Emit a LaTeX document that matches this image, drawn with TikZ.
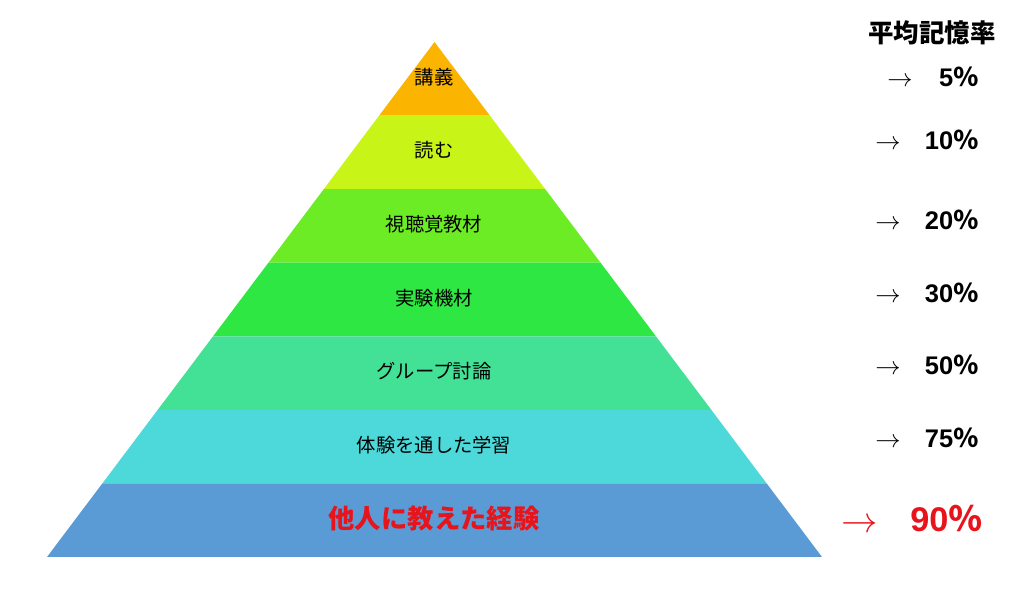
\documentclass[tikz,border=0pt]{standalone}
\usepackage{fontspec}
\newfontfamily\jpfont{Noto Sans CJK JP}
\newfontfamily\numfont{Liberation Sans}
\usetikzlibrary{positioning}
\definecolor{lyrA}{HTML}{FBB400}
\definecolor{lyrB}{HTML}{C8F517}
\definecolor{lyrC}{HTML}{6CEC24}
\definecolor{lyrD}{HTML}{2EE742}
\definecolor{lyrE}{HTML}{42E196}
\definecolor{lyrF}{HTML}{4DD8D9}
\definecolor{lyrG}{HTML}{5B9BD5}
\definecolor{hotred}{HTML}{E8141C}

\tikzset{
  layerlabel/.style={font=\jpfont\fontsize{11}{13}\selectfont, text=black},
  ratelabel/.style={anchor=east, font=\numfont\bfseries\fontsize{14.5}{16}\selectfont},
  ratearrow/.style={font=\fontsize{14}{16}\selectfont},
}

\begin{document}
\begin{tikzpicture}[x=0.02cm,y=-0.02cm]
  \useasboundingbox (0,0) rectangle (1024,598);
  % pyramid layers, apex (434.5,42), base half width 387.5
  \foreach \c [count=\i from 0] in {lyrA,lyrB,lyrC,lyrD,lyrE,lyrF,lyrG} {
    \pgfmathsetmacro{\ya}{42+73.57*\i}
    \pgfmathsetmacro{\yb}{42+73.57*(\i+1)}
    \pgfmathsetmacro{\wa}{387.5*\i/7}
    \pgfmathsetmacro{\wb}{387.5*(\i+1)/7}
    \fill[\c] (434.5-\wa,\ya) -- (434.5+\wa,\ya) -- (434.5+\wb,\yb) -- (434.5-\wb,\yb) -- cycle;
  }
  % layer names
  \node[layerlabel] (lecture) at (434,77) {講義};
  \node[layerlabel] (reading) at (434,150) {読む};
  \node[layerlabel] (av) at (434,224) {視聴覚教材};
  \node[layerlabel] (demo) at (434,298) {実験機材};
  \node[layerlabel] (group) at (434,371) {グループ討論};
  \node[layerlabel] (practice) at (434,445) {体験を通した学習};
  \node[layerlabel, text=hotred, font=\jpfont\bfseries\fontsize{15}{17}\selectfont] (teach) at (434,519) {他人に教えた経験};
  % retention rates
  \node[font=\jpfont\bfseries\fontsize{14.5}{17}\selectfont] (head) at (932,33) {平均記憶率};
  \node[ratelabel] (r5) at (985,77) {5\jpfont ％};
  \node[ratearrow] (a5) at (900,82) {$\rightarrow$};
  \node[ratelabel] (r10) at (985,140) {10\jpfont ％};
  \node[ratearrow] (a10) at (888,145) {$\rightarrow$};
  \node[ratelabel] (r20) at (985,220) {20\jpfont ％};
  \node[ratearrow] (a20) at (888,225) {$\rightarrow$};
  \node[ratelabel] (r30) at (985,293) {30\jpfont ％};
  \node[ratearrow] (a30) at (888,298) {$\rightarrow$};
  \node[ratelabel] (r50) at (985,365) {50\jpfont ％};
  \node[ratearrow] (a50) at (888,370) {$\rightarrow$};
  \node[ratelabel] (r75) at (985,438) {75\jpfont ％};
  \node[ratearrow] (a75) at (888,443) {$\rightarrow$};
  \node[ratelabel, text=hotred, font=\numfont\bfseries\fontsize{19.5}{22}\selectfont] (r90) at (989,519) {90\jpfont ％};
  \node[ratearrow, text=hotred, font=\fontsize{20}{22}\selectfont] (a90) at (860,526) {$\rightarrow$};
\end{tikzpicture}
\end{document}
